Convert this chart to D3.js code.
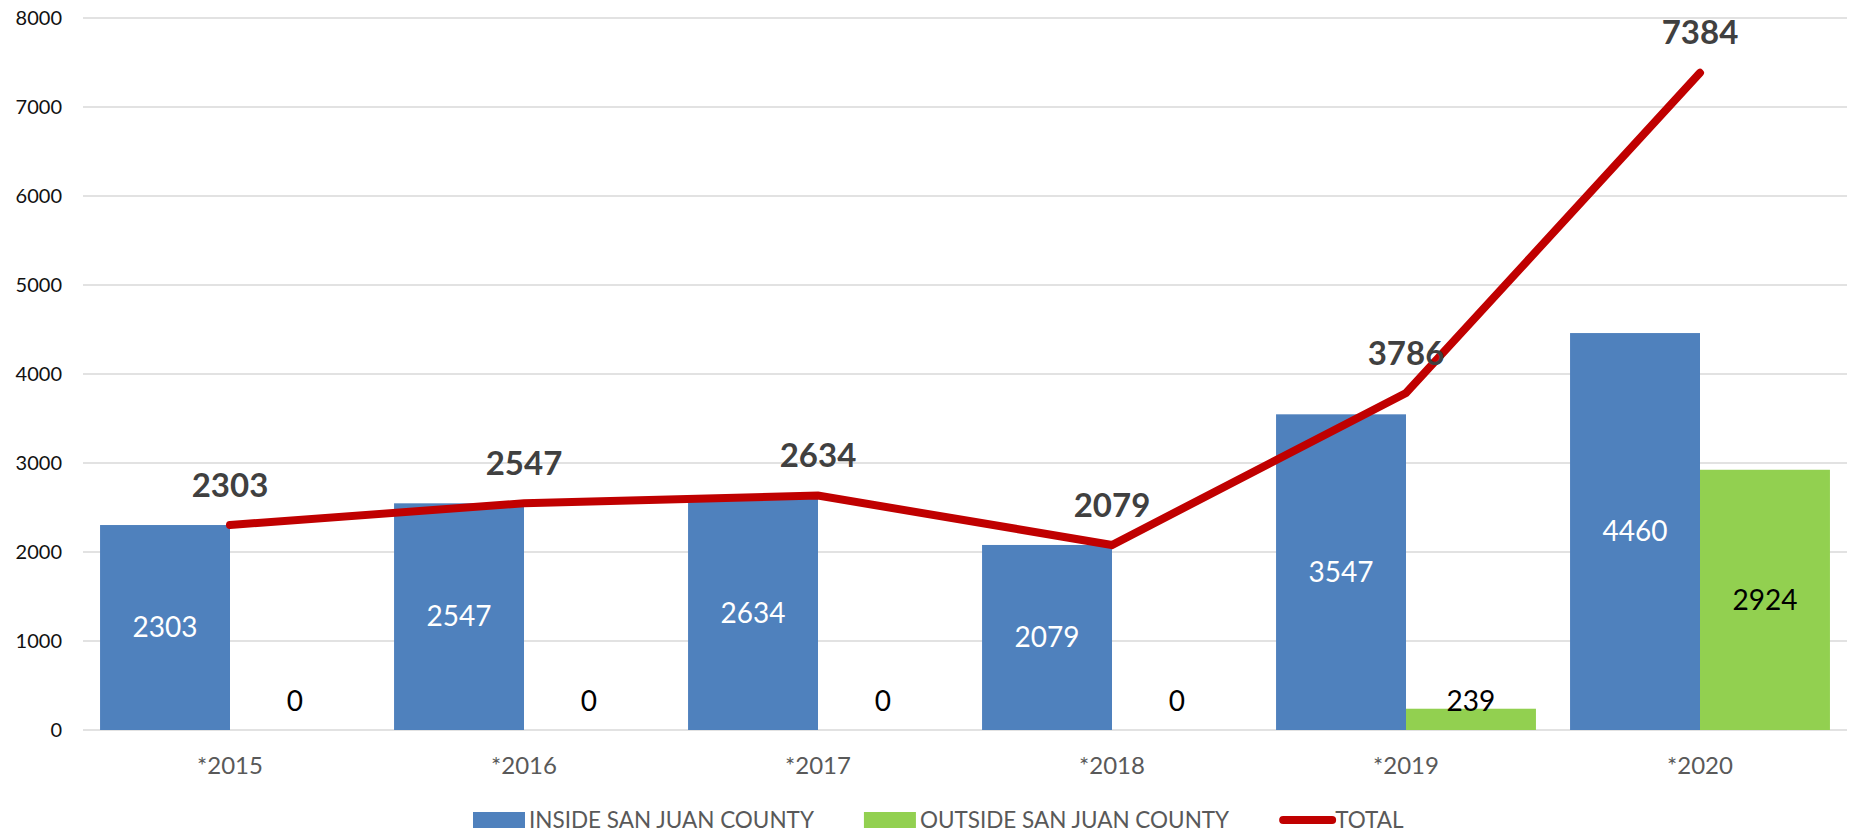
<!DOCTYPE html>
<html>
<head>
<meta charset="utf-8">
<script src="https://cdn.jsdelivr.net/npm/d3@7"></script>
<style>
  body { margin: 0; background: #fff; }
  svg { display: block; font-family: Lato, "Open Sans", sans-serif; }
</style>
</head>
<body>
<svg class="chart"></svg>
<script>

var years = ["*2015", "*2016", "*2017", "*2018", "*2019", "*2020"];
var inside = [2303, 2547, 2634, 2079, 3547, 4460];
var outside = [0, 0, 0, 0, 239, 2924];
var total = [2303, 2547, 2634, 2079, 3786, 7384];
var yTicks = [0, 1000, 2000, 3000, 4000, 5000, 6000, 7000, 8000];
var seriesNames = ["INSIDE SAN JUAN COUNTY", "OUTSIDE SAN JUAN COUNTY", "TOTAL"];

var width = 1854, height = 833;
// plot edges (don't call these top/left, window.top is read-only)
var plotL = 83, plotR = 1847, plotT = 18, plotB = 730;

var chart = d3.select(".chart")
    .attr("width", width)
    .attr("height", height);

var x = d3.scaleBand()
    .domain(years)
    .range([plotL, plotR])
    .paddingInner(0.116)
    .paddingOuter(0.058);

var x1 = d3.scaleBand()
    .domain([0, 1])
    .range([0, x.bandwidth()]);

var y = d3.scaleLinear()
    .domain([0, 8000])
    .range([plotB, plotT]);

// gridlines
chart.append("g")
  .selectAll("line")
    .data(yTicks)
  .enter().append("line")
    .attr("x1", plotL)
    .attr("x2", plotR)
    .attr("y1", function(d) { return y(d); })
    .attr("y2", function(d) { return y(d); })
    .attr("stroke", "#d9d9d9")
    .attr("stroke-width", 1.5);

// y axis labels
var yAxis = d3.axisLeft(y).tickValues(yTicks).tickSize(0).tickPadding(0).tickFormat(d3.format("d"));
chart.append("g")
    .attr("transform", "translate(62,0)")
    .call(yAxis)
    .call(function(g) { g.select(".domain").remove(); })
    .selectAll("text")
    .attr("font-size", 20)
    .attr("font-family", "Lato, sans-serif")
    .attr("fill", "#111");

// x axis labels
var xAxis = d3.axisBottom(x).tickSize(0).tickPadding(0);
chart.append("g")
    .attr("transform", "translate(0,766)")
    .call(xAxis)
    .call(function(g) { g.select(".domain").remove(); })
    .selectAll("text")
    .attr("dy", "0.35em")
    .attr("font-size", 24)
    .attr("font-family", "Lato, sans-serif")
    .attr("fill", "#595959");

var rows = years.map(function(d, i) {
  return {year: d, vals: [inside[i], outside[i]]};
});
var colors = ["#4f81bd", "#92d050"];
var labelColors = ["#ffffff", "#000000"];

var group = chart.selectAll("g.year")
    .data(rows)
  .enter().append("g")
    .attr("class", "year")
    .attr("transform", function(d) { return "translate(" + x(d.year) + ",0)"; });

group.selectAll("rect")
    .data(function(d) { return d.vals; })
  .enter().append("rect")
    .attr("x", function(d, i) { return x1(i); })
    .attr("width", x1.bandwidth())
    .attr("y", function(d) { return y(d); })
    .attr("height", function(d) { return y(0) - y(d); })
    .attr("fill", function(d, i) { return colors[i]; });

group.selectAll("text")
    .data(function(d) { return d.vals; })
  .enter().append("text")
    .attr("x", function(d, i) { return x1(i) + x1.bandwidth() / 2; })
    .attr("y", function(d) { return Math.min((y(d) + y(0)) / 2, y(0) - 29); })
    .attr("dy", "0.35em")
    .attr("text-anchor", "middle")
    .attr("font-size", 28)
    .attr("fill", function(d, i) { return labelColors[i]; })
    .text(function(d) { return d; });

// total line
var line = d3.line()
    .x(function(d, i) { return x(years[i]) + x.bandwidth() / 2; })
    .y(function(d) { return y(d); });

chart.append("path")
    .datum(total)
    .attr("d", line)
    .attr("fill", "none")
    .attr("stroke", "#c00000")
    .attr("stroke-width", 8)
    .attr("stroke-linecap", "round")
    .attr("stroke-linejoin", "miter");

chart.append("g")
  .selectAll("text")
    .data(total)
  .enter().append("text")
    .attr("x", function(d, i) { return x(years[i]) + x.bandwidth() / 2; })
    .attr("y", function(d) { return y(d) - 40; })
    .attr("dy", "0.35em")
    .attr("text-anchor", "middle")
    .attr("font-size", 33)
    .attr("font-weight", "bold")
    .attr("fill", "#404040")
    .text(function(d) { return d; });

// legend
var legend = chart.append("g").attr("transform", "translate(0,820)");
var lx = 473;
seriesNames.forEach(function(name, i) {
  if (i < 2) {
    legend.append("rect")
        .attr("x", lx).attr("y", -8)
        .attr("width", 52).attr("height", 16)
        .attr("fill", colors[i]);
  } else {
    legend.append("line")
        .attr("x1", lx + 4).attr("x2", lx + 53)
        .attr("y1", 0).attr("y2", 0)
        .attr("stroke", "#c00000")
        .attr("stroke-width", 8)
        .attr("stroke-linecap", "round");
  }
  var t = legend.append("text")
      .attr("x", lx + 56)
      .attr("y", 0)
      .attr("dy", "0.35em")
      .attr("font-size", 22.5)
      .attr("fill", "#595959")
      .text(name);
  lx = lx + 56 + t.node().getComputedTextLength() + 50;
});

</script>
</body>
</html>
